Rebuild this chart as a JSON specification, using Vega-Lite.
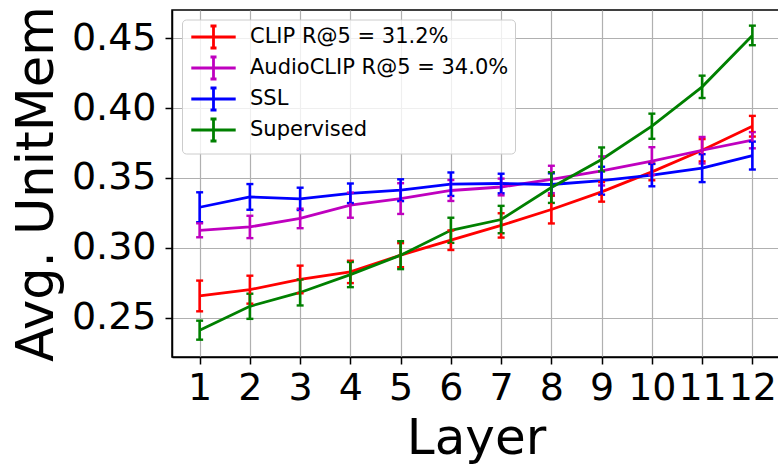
{
  "$schema": "https://vega.github.io/schema/vega-lite/v6.json",
  "autosize": {"type": "none"},
  "padding": {"left": 172, "top": 10, "right": 0, "bottom": 110},
  "width": 608,
  "height": 347,
  "config": {
    "font": "DejaVu Sans",
    "view": {"stroke": "black", "strokeWidth": 1.5},
    "axis": {
      "labelFont": "DejaVu Sans",
      "titleFont": "DejaVu Sans",
      "labelColor": "black",
      "titleColor": "black",
      "tickColor": "black",
      "domainColor": "black",
      "domainWidth": 1.5,
      "tickWidth": 1.5,
      "tickSize": 7,
      "gridColor": "#b0b0b0",
      "gridWidth": 1.2,
      "gridOpacity": 1,
      "titleFontWeight": "normal",
      "labelOverlap": false,
      "labelBound": false,
      "labelFlush": false
    }
  },
  "data": {
    "values": [
      {"layer": 1, "model": "CLIP R@5 = 31.2%", "value": 0.2655, "err": 0.011},
      {"layer": 2, "model": "CLIP R@5 = 31.2%", "value": 0.270, "err": 0.010},
      {"layer": 3, "model": "CLIP R@5 = 31.2%", "value": 0.2773, "err": 0.0099},
      {"layer": 4, "model": "CLIP R@5 = 31.2%", "value": 0.2827, "err": 0.008},
      {"layer": 5, "model": "CLIP R@5 = 31.2%", "value": 0.2947, "err": 0.0086},
      {"layer": 6, "model": "CLIP R@5 = 31.2%", "value": 0.3054, "err": 0.007},
      {"layer": 7, "model": "CLIP R@5 = 31.2%", "value": 0.316, "err": 0.0087},
      {"layer": 8, "model": "CLIP R@5 = 31.2%", "value": 0.3274, "err": 0.010},
      {"layer": 9, "model": "CLIP R@5 = 31.2%", "value": 0.340, "err": 0.007},
      {"layer": 10, "model": "CLIP R@5 = 31.2%", "value": 0.3543, "err": 0.006},
      {"layer": 11, "model": "CLIP R@5 = 31.2%", "value": 0.3698, "err": 0.008},
      {"layer": 12, "model": "CLIP R@5 = 31.2%", "value": 0.387, "err": 0.0074},
      {"layer": 1, "model": "AudioCLIP R@5 = 34.0%", "value": 0.3125, "err": 0.005},
      {"layer": 2, "model": "AudioCLIP R@5 = 34.0%", "value": 0.3149, "err": 0.008},
      {"layer": 3, "model": "AudioCLIP R@5 = 34.0%", "value": 0.321, "err": 0.007},
      {"layer": 4, "model": "AudioCLIP R@5 = 34.0%", "value": 0.3305, "err": 0.009},
      {"layer": 5, "model": "AudioCLIP R@5 = 34.0%", "value": 0.3352, "err": 0.011},
      {"layer": 6, "model": "AudioCLIP R@5 = 34.0%", "value": 0.341, "err": 0.0075},
      {"layer": 7, "model": "AudioCLIP R@5 = 34.0%", "value": 0.3435, "err": 0.006},
      {"layer": 8, "model": "AudioCLIP R@5 = 34.0%", "value": 0.3489, "err": 0.0098},
      {"layer": 9, "model": "AudioCLIP R@5 = 34.0%", "value": 0.355, "err": 0.0104},
      {"layer": 10, "model": "AudioCLIP R@5 = 34.0%", "value": 0.362, "err": 0.010},
      {"layer": 11, "model": "AudioCLIP R@5 = 34.0%", "value": 0.3698, "err": 0.0095},
      {"layer": 12, "model": "AudioCLIP R@5 = 34.0%", "value": 0.377, "err": 0.0058},
      {"layer": 1, "model": "SSL", "value": 0.329, "err": 0.0107},
      {"layer": 2, "model": "SSL", "value": 0.3364, "err": 0.0092},
      {"layer": 3, "model": "SSL", "value": 0.335, "err": 0.008},
      {"layer": 4, "model": "SSL", "value": 0.339, "err": 0.007},
      {"layer": 5, "model": "SSL", "value": 0.3412, "err": 0.0078},
      {"layer": 6, "model": "SSL", "value": 0.3455, "err": 0.0084},
      {"layer": 7, "model": "SSL", "value": 0.346, "err": 0.007},
      {"layer": 8, "model": "SSL", "value": 0.3453, "err": 0.008},
      {"layer": 9, "model": "SSL", "value": 0.348, "err": 0.010},
      {"layer": 10, "model": "SSL", "value": 0.352, "err": 0.008},
      {"layer": 11, "model": "SSL", "value": 0.357, "err": 0.010},
      {"layer": 12, "model": "SSL", "value": 0.366, "err": 0.010},
      {"layer": 1, "model": "Supervised", "value": 0.241, "err": 0.0068},
      {"layer": 2, "model": "Supervised", "value": 0.2581, "err": 0.009},
      {"layer": 3, "model": "Supervised", "value": 0.268, "err": 0.0093},
      {"layer": 4, "model": "Supervised", "value": 0.2808, "err": 0.009},
      {"layer": 5, "model": "Supervised", "value": 0.2947, "err": 0.010},
      {"layer": 6, "model": "Supervised", "value": 0.3125, "err": 0.009},
      {"layer": 7, "model": "Supervised", "value": 0.3202, "err": 0.0098},
      {"layer": 8, "model": "Supervised", "value": 0.3431, "err": 0.011},
      {"layer": 9, "model": "Supervised", "value": 0.3632, "err": 0.0086},
      {"layer": 10, "model": "Supervised", "value": 0.387, "err": 0.009},
      {"layer": 11, "model": "Supervised", "value": 0.4152, "err": 0.008},
      {"layer": 12, "model": "Supervised", "value": 0.452, "err": 0.007}
    ]
  },
  "encoding": {
    "x": {
      "field": "layer",
      "type": "quantitative",
      "scale": {"domain": [0.45, 12.55], "nice": false, "zero": false},
      "axis": {
        "title": "Layer",
        "values": [1, 2, 3, 4, 5, 6, 7, 8, 9, 10, 11, 12],
        "format": "d",
        "labelFontSize": 38,
        "labelPadding": 5,
        "titleFontSize": 50,
        "titlePadding": 6
      }
    },
    "y": {
      "field": "value",
      "type": "quantitative",
      "scale": {"domain": [0.2218, 0.4702], "nice": false, "zero": false},
      "axis": {
        "title": "Avg. UnitMem",
        "values": [0.25, 0.3, 0.35, 0.4, 0.45],
        "format": ".2f",
        "labelFontSize": 38,
        "labelPadding": 9,
        "titleFontSize": 51,
        "titlePadding": 8
      }
    },
    "color": {
      "field": "model",
      "type": "nominal",
      "sort": ["CLIP R@5 = 31.2%", "AudioCLIP R@5 = 34.0%", "SSL", "Supervised"],
      "scale": {
        "domain": ["CLIP R@5 = 31.2%", "AudioCLIP R@5 = 34.0%", "SSL", "Supervised"],
        "range": ["#ff0000", "#bf00bf", "#0000ff", "#008000"]
      },
      "legend": {
        "title": null,
        "orient": "none",
        "legendX": 10,
        "legendY": 9.5,
        "fillColor": "rgba(255,255,255,0.8)",
        "strokeColor": "#cccccc",
        "cornerRadius": 4,
        "padding": 6,
        "rowPadding": -4,
        "labelFont": "DejaVu Sans",
        "labelFontSize": 21,
        "labelColor": "black",
        "labelLimit": 400,
        "labelOffset": 25,
        "symbolOffset": 14,
        "symbolSize": 400,
        "symbolOpacity": 1,
        "symbolType": "M-2.22,0L2.22,0M0,-1.1L0,1.1M-0.3,-1.1L0.3,-1.1M-0.3,1.1L0.3,1.1",
        "symbolStrokeWidth": 2.8,
        "symbolFillColor": "transparent"
      }
    }
  },
  "layer": [
    {
      "mark": {"type": "line", "strokeWidth": 2.8, "clip": true}
    },
    {
      "mark": {
        "type": "errorbar",
        "thickness": 2.6,
        "opacity": 1,
        "ticks": {"size": 7, "thickness": 2.4, "opacity": 1},
        "clip": true
      },
      "encoding": {
        "yError": {"field": "err"}
      }
    }
  ]
}
